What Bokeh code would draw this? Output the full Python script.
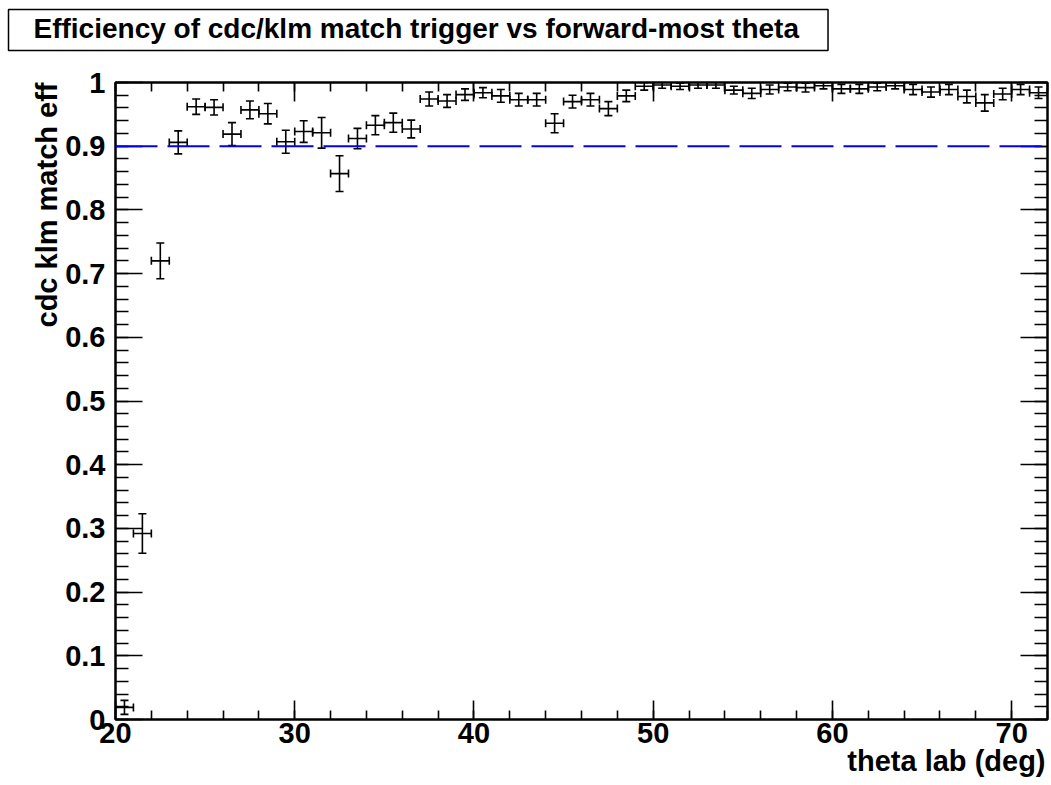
from bokeh.embed import file_html
from bokeh.models import (ColumnDataSource, CustomJSTickFormatter, LinearAxis,
                          Range1d, SingleIntervalTicker, Span, TeeHead, Title, Whisker)
from bokeh.plotting import figure
from bokeh.resources import INLINE

# Efficiency per 1-degree bin of the forward-most track theta
THETA = [20.5, 21.5, 22.5, 23.5, 24.5, 25.5, 26.5, 27.5, 28.5, 29.5,
         30.5, 31.5, 32.5, 33.5, 34.5, 35.5, 36.5, 37.5, 38.5, 39.5,
         40.5, 41.5, 42.5, 43.5, 44.5, 45.5, 46.5, 47.5, 48.5, 49.5,
         50.5, 51.5, 52.5, 53.5, 54.5, 55.5, 56.5, 57.5, 58.5, 59.5,
         60.5, 61.5, 62.5, 63.5, 64.5, 65.5, 66.5, 67.5, 68.5, 69.5,
         70.5, 71.5]
EFF = [0.019, 0.292, 0.720, 0.906, 0.962, 0.961, 0.919, 0.957, 0.951, 0.907,
       0.923, 0.921, 0.857, 0.912, 0.933, 0.937, 0.927, 0.974, 0.971, 0.981,
       0.984, 0.979, 0.973, 0.973, 0.936, 0.970, 0.973, 0.959, 0.979, 0.994,
       0.996, 0.994, 0.996, 0.996, 0.988, 0.983, 0.989, 0.993, 0.992, 0.995,
       0.990, 0.990, 0.993, 0.995, 0.989, 0.985, 0.989, 0.978, 0.968, 0.982,
       0.989, 0.984]
EFF_ERR = [0.011, 0.031, 0.028, 0.018, 0.012, 0.012, 0.018, 0.014, 0.016, 0.018,
           0.017, 0.024, 0.028, 0.016, 0.015, 0.015, 0.014, 0.011, 0.010, 0.009,
           0.008, 0.010, 0.010, 0.010, 0.015, 0.010, 0.010, 0.011, 0.009, 0.006,
           0.005, 0.005, 0.005, 0.005, 0.006, 0.008, 0.007, 0.006, 0.007, 0.005,
           0.007, 0.007, 0.006, 0.005, 0.008, 0.008, 0.008, 0.010, 0.013, 0.009,
           0.008, 0.009]
BIN_WIDTH = 1.0
THRESHOLD = 0.9

X_RANGE = (20, 72)
Y_RANGE = (0, 1)

TITLE = "Efficiency of cdc/klm match trigger vs forward-most theta"
X_TITLE = "theta lab (deg)"
Y_TITLE = "cdc klm match eff"

FONT = "Liberation Sans"
LABEL_SIZE = "29px"

half = BIN_WIDTH / 2
source = ColumnDataSource(dict(
    theta=THETA,
    eff=EFF,
    lo=[e - d for e, d in zip(EFF, EFF_ERR)],
    hi=[e + d for e, d in zip(EFF, EFF_ERR)],
    xlo=[t - half for t in THETA],
    xhi=[t + half for t in THETA],
))

p = figure(width=1051, height=785,
           x_range=Range1d(*X_RANGE), y_range=Range1d(*Y_RANGE),
           output_backend="svg", toolbar_location=None,
           min_border_left=115, min_border_right=4,
           min_border_top=82, min_border_bottom=66)
p.background_fill_color = "white"
p.border_fill_color = "white"
p.outline_line_color = "black"
p.outline_line_width = 2
p.xgrid.visible = False
p.ygrid.visible = False

blank = CustomJSTickFormatter(code="return ''")
yfmt = CustomJSTickFormatter(code="""
    if (Math.abs(tick) < 1e-9 || Math.abs(tick - 1) < 1e-9) return tick.toFixed(0);
    return tick.toFixed(1);
""")


def style(ax, major_len, minor_len):
    ax.major_tick_in = major_len
    ax.major_tick_out = 0
    ax.minor_tick_in = minor_len
    ax.minor_tick_out = 0
    ax.axis_line_color = "black"
    ax.axis_line_width = 2
    ax.major_tick_line_width = 1.6
    ax.minor_tick_line_width = 1.6
    ax.major_tick_line_color = "black"
    ax.minor_tick_line_color = "black"
    ax.major_label_text_font = FONT
    ax.major_label_text_font_style = "bold"
    ax.major_label_text_font_size = LABEL_SIZE
    ax.major_label_text_color = "black"


xb = p.xaxis[0]
xb.ticker = SingleIntervalTicker(interval=10, num_minor_ticks=5)
style(xb, 19, 9)
xb.major_label_standoff = 3

yl = p.yaxis[0]
yl.ticker = SingleIntervalTicker(interval=0.1, num_minor_ticks=5)
yl.formatter = yfmt
style(yl, 27, 13)
yl.major_label_standoff = 10

xt = LinearAxis(ticker=SingleIntervalTicker(interval=10, num_minor_ticks=5), formatter=blank)
style(xt, 19, 9)
xt.major_label_standoff = 0
p.add_layout(xt, "above")

# invisible axis that only keeps a gap between the frame and the title box
gap = LinearAxis(ticker=SingleIntervalTicker(interval=10, num_minor_ticks=0), formatter=blank,
                 major_tick_in=0, major_tick_out=27, minor_tick_in=0, minor_tick_out=0,
                 major_tick_line_color=None, minor_tick_line_color=None,
                 axis_line_color=None, major_label_standoff=0)
p.add_layout(gap, "above")

yr = LinearAxis(ticker=SingleIntervalTicker(interval=0.1, num_minor_ticks=5), formatter=blank)
style(yr, 27, 13)
yr.major_label_standoff = 0
p.add_layout(yr, "right")

# boxed title at the top left
p.title.text = TITLE
p.title.align = "left"
p.title.offset = -107
p.title.standoff = 10
p.title.text_font = FONT
p.title.text_font_style = "bold"
p.title.text_font_size = "28px"
p.title.text_color = "black"
p.title.background_fill_color = "white"
p.title.border_line_color = "black"
p.title.border_line_width = 1.5
p.title.padding = dict(left=25, right=29, top=3, bottom=7)

# axis titles placed at the far ends of their axes
x_title = Title(text=X_TITLE, align="right", offset=2, standoff=0,
                text_baseline="alphabetic",
                text_font=FONT, text_font_style="bold",
                text_font_size=LABEL_SIZE, text_color="black")
try:
    # tuck the x title into the tick-label band so the frame keeps its height
    x_title.standoff = -6
except ValueError:
    xb.major_label_standoff = 0
p.add_layout(x_title, "below")
p.add_layout(Title(text=Y_TITLE, align="right", offset=0, standoff=0,
                   text_font=FONT, text_font_style="bold",
                   text_font_size=LABEL_SIZE, text_color="black"), "left")

# 90% reference line
p.add_layout(Span(location=THRESHOLD, dimension="width", line_color="#0000ff",
                  line_width=2, line_dash="42 10"))

# vertical (efficiency) and horizontal (bin width) error bars
p.add_layout(Whisker(source=source, base="theta", lower="lo", upper="hi",
                     dimension="height", line_color="black", line_width=1.6,
                     lower_head=TeeHead(size=8, line_color="black", line_width=1.6),
                     upper_head=TeeHead(size=8, line_color="black", line_width=1.6)))
p.add_layout(Whisker(source=source, base="eff", lower="xlo", upper="xhi",
                     dimension="width", line_color="black", line_width=1.6,
                     lower_head=TeeHead(size=8, line_color="black", line_width=1.6),
                     upper_head=TeeHead(size=8, line_color="black", line_width=1.6)))

open("out.html", "w").write(file_html(p, INLINE))
